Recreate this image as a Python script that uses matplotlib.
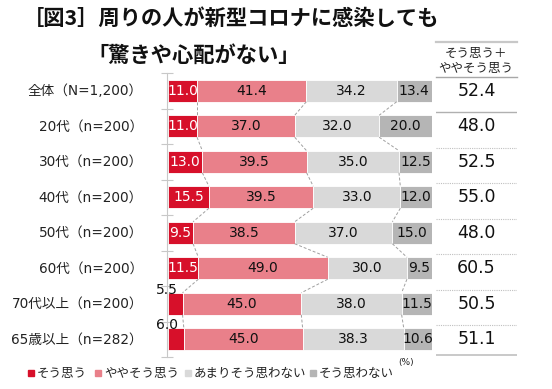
import matplotlib
matplotlib.use("Agg")
import matplotlib.pyplot as plt
from matplotlib.lines import Line2D
import numpy as np

plt.rcParams['font.family'] = ['DejaVu Sans', 'Noto Sans CJK JP']
JP = ['Noto Sans CJK JP', 'DejaVu Sans']

categories = ['全体（N=1,200）', '20代（n=200）', '30代（n=200）', '40代（n=200）',
              '50代（n=200）', '60代（n=200）', '70代以上（n=200）', '65歳以上（n=282）']
sou = [11.0, 11.0, 13.0, 15.5, 9.5, 11.5, 5.5, 6.0]
yaya = [41.4, 37.0, 39.5, 39.5, 38.5, 49.0, 45.0, 45.0]
amari = [34.2, 32.0, 35.0, 33.0, 37.0, 30.0, 38.0, 38.3]
nai = [13.4, 20.0, 12.5, 12.0, 15.0, 9.5, 11.5, 10.6]
total = [52.4, 48.0, 52.5, 55.0, 48.0, 60.5, 50.5, 51.1]
series_names = ['そう思う', 'ややそう思う', 'あまりそう思わない', 'そう思わない']
colors = ['#d7102a', '#e9808a', '#d9d9d9', '#b5b5b5']

W, H = 552, 389
fig = plt.figure(figsize=(W / 100, H / 100), dpi=100)

def fx(px):
    return px / W

def fy(py):
    return 1 - py / H

# bar area: x 168..432 px, rows from 73 to 357 px
ax = fig.add_axes([fx(168), fy(357), fx(432) - fx(168), (357 - 73) / H])
n = len(categories)
y = np.arange(n)
data = [sou, yaya, amari, nai]
bh = 0.62
left = np.zeros(n)
for vals, c in zip(data, colors):
    vals = np.array(vals)
    ax.barh(y, vals, left=left, height=bh, color=c, edgecolor='white', linewidth=0.6)
    for i, v in enumerate(vals):
        if v < 8:
            ax.text(left[i] - 0.3, i - bh / 2 - 0.08, f'{v:.1f}', ha='center', va='center',
                    fontsize=10, color='#111111')
        else:
            tc = 'white' if c == colors[0] else '#111111'
            ax.text(left[i] + v / 2, i, f'{v:.1f}', ha='center', va='center',
                    fontsize=10, color=tc)
    left = left + vals

# connector lines
cum = np.cumsum(np.array(data), axis=0)
for k in range(3):
    for i in range(n - 1):
        ax.plot([cum[k][i], cum[k][i + 1]], [i + bh / 2, i + 1 - bh / 2],
                ls=(0, (3, 2)), color='#a0a0a0', lw=0.7)

ax.set_xlim(0, 100)
ax.set_ylim(n - 0.5, -0.5)
ax.set_xticks([])
ax.set_yticks(np.arange(-0.5, n, 1))
ax.set_yticklabels([])
ax.tick_params(axis='y', direction='inout', length=8, color='#c8c8c8', width=0.8)
for s in ['top', 'right', 'bottom']:
    ax.spines[s].set_visible(False)
ax.spines['left'].set_color('#c8c8c8')
ax.spines['left'].set_position(('data', -0.4))
ax.patch.set_alpha(0)

for i, lab in enumerate(categories):
    ax.text(-9.5, i, lab, ha='right', va='center', fontsize=9.8, color='#222222')

# right table
tx = fig.add_axes([fx(436), fy(357), fx(517) - fx(436), (357 - 73) / H])
tx.set_xlim(0, 1)
tx.set_ylim(n - 0.5, -0.5)
tx.axis('off')
for i, v in enumerate(total):
    tx.text(0.5, i, f'{v:.1f}', ha='center', va='center', fontsize=12.5, color='#111111')
tx.plot([0, 1], [0.6, 0.6], color='#b0b0b0', lw=1.0)
for i in range(1, n - 1):
    tx.plot([0, 1], [i + 0.6, i + 0.6], color='#c0c0c0', lw=0.8, ls=(0, (1, 1)))
tx.plot([0, 1], [n - 0.55, n - 0.55], color='#c0c0c0', lw=1.2)

fig.add_artist(Line2D([fx(436), fx(517)], [fy(42), fy(42)], color='#c8c8c8', lw=1.6))
fig.add_artist(Line2D([fx(436), fx(517)], [fy(77), fy(77)], color='#a8a8a8', lw=1.0))
fig.text(fx(476), fy(53), 'そう思う＋', ha='center', va='center', fontsize=9, color='#222222',
         family=JP)
fig.text(fx(476), fy(68), 'ややそう思う', ha='center', va='center', fontsize=9, color='#222222',
         family=JP)

# titles
fig.text(fx(23), fy(18), '［図3］周りの人が新型コロナに感染しても', ha='left', va='center',
         fontsize=15.3, fontweight='bold', color='#111111', family=JP)
fig.text(fx(87), fy(55), '「驚きや心配がない」', ha='left', va='center',
         fontsize=15.3, fontweight='bold', color='#111111', family=JP)

# legend
leg_x = [28, 95, 185, 310]
for xp, name, c in zip(leg_x, series_names, colors):
    fig.patches.append(plt.Rectangle((fx(xp), fy(376)), 6 / W, 6 / H, color=c,
                                     transform=fig.transFigure, figure=fig))
    fig.text(fx(xp + 9), fy(373), name, ha='left', va='center', fontsize=9, color='#222222',
             family=JP)
fig.text(fx(398), fy(363), '(%)', ha='left', va='center', fontsize=6.5, color='#222222')

fig.savefig('out.png', dpi=100)
